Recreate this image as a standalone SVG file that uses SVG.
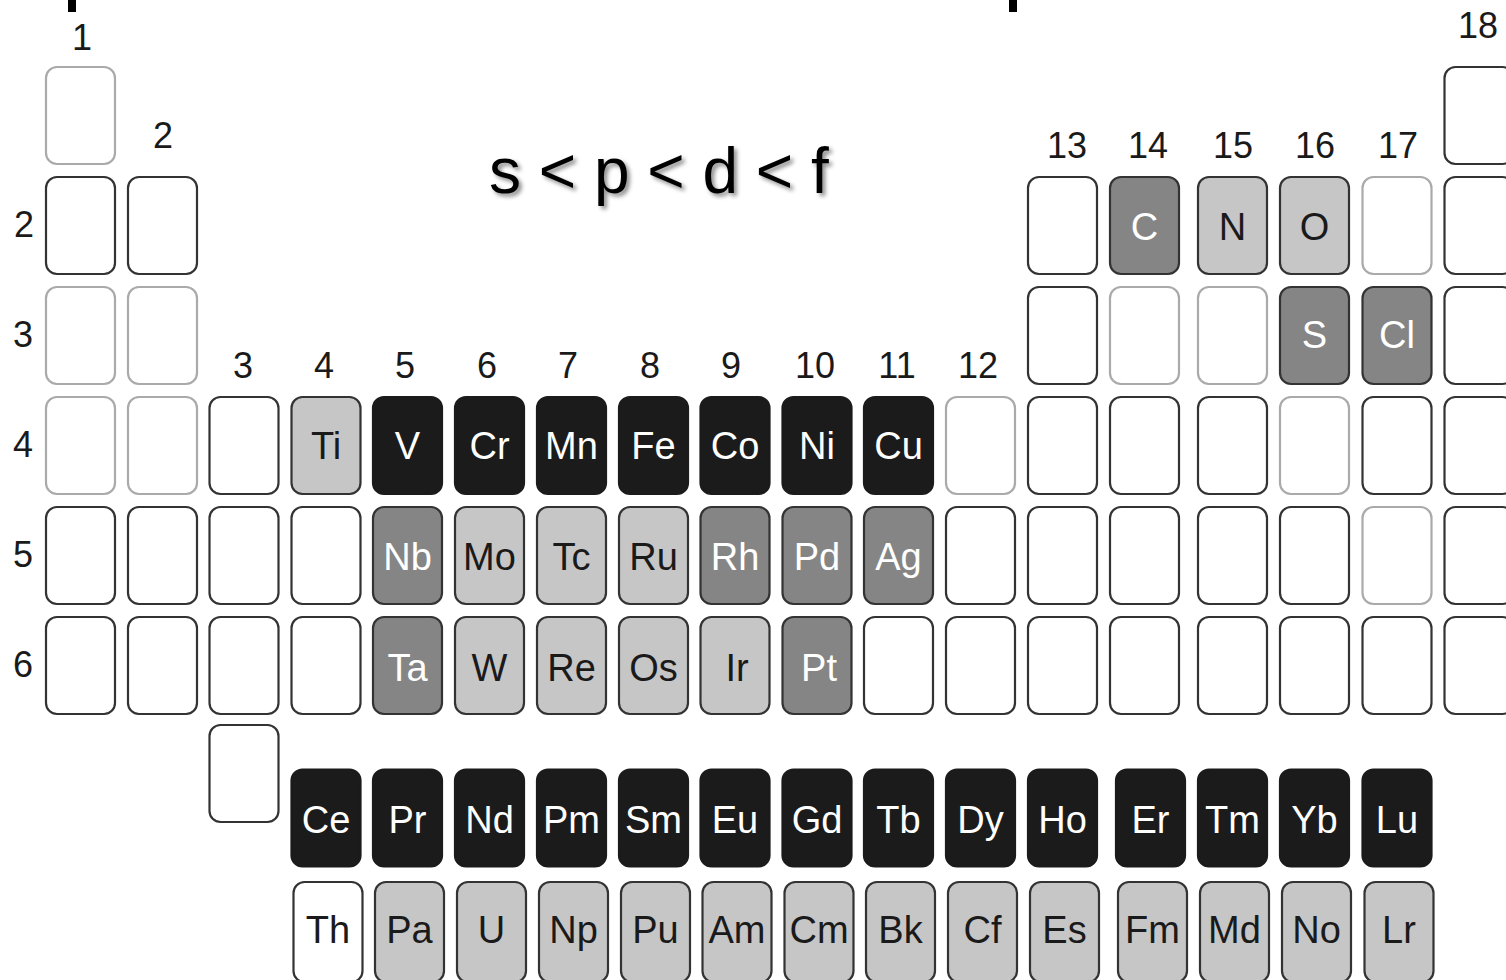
<svg xmlns="http://www.w3.org/2000/svg" width="1506" height="980" viewBox="0 0 1506 980">
<defs>
<style>
.c rect{fill:#fff;stroke:#333;stroke-width:2.2}
.f rect{stroke:#aaa}
.k rect{fill:#1b1b1b;stroke:#1b1b1b}
.d rect{fill:#858585}
.l rect{fill:#c6c6c6}
text{font-family:"Liberation Sans",Arial,sans-serif;text-anchor:middle}
.c text{font-size:38px;fill:#1a1a1a}
.k text,.d text{fill:#fff}
.lab{font-size:36px;fill:#1a1a1a}
.title{font-size:64px;fill:#000;text-anchor:start}
</style>
<filter id="sh" x="-10%" y="-30%" width="120%" height="160%">
<feDropShadow dx="3" dy="3" stdDeviation="2" flood-color="#000" flood-opacity="0.45"/>
</filter>
</defs>
<rect width="1506" height="980" fill="#fff"/>
<g id="marks">
<rect x="68" y="0" width="8" height="12" fill="#000"/>
<rect x="1009" y="0" width="8" height="12" fill="#000"/>
</g>
<g id="title"><text class="title" x="489" y="193" filter="url(#sh)">s &lt; p &lt; d &lt; f</text></g>
<g id="group-labels" class="lab">
<text class="lab" x="82" y="50">1</text>
<text class="lab" x="163" y="148">2</text>
<text class="lab" x="243" y="378">3</text>
<text class="lab" x="324" y="378">4</text>
<text class="lab" x="405" y="378">5</text>
<text class="lab" x="487" y="378">6</text>
<text class="lab" x="568" y="378">7</text>
<text class="lab" x="650" y="378">8</text>
<text class="lab" x="731" y="378">9</text>
<text class="lab" x="815" y="378">10</text>
<text class="lab" x="897" y="378">11</text>
<text class="lab" x="978" y="378">12</text>
<text class="lab" x="1067" y="158">13</text>
<text class="lab" x="1148" y="158">14</text>
<text class="lab" x="1233" y="158">15</text>
<text class="lab" x="1315" y="158">16</text>
<text class="lab" x="1398" y="158">17</text>
<text class="lab" x="1478" y="38">18</text>
</g>
<g id="period-labels">
<text class="lab" x="24" y="237">2</text>
<text class="lab" x="23" y="347">3</text>
<text class="lab" x="23" y="457">4</text>
<text class="lab" x="23" y="567">5</text>
<text class="lab" x="23" y="677">6</text>
</g>
<g id="connectors"/>
<!-- Period 1 -->
<g id="H" class="c f"><rect x="46" y="67" width="69" height="97" rx="11"/></g>
<g id="He" class="c"><rect x="1444.5" y="67" width="69" height="97" rx="11"/></g>
<!-- Period 2 -->
<g id="Li" class="c"><rect x="46" y="177" width="69" height="97" rx="11"/></g>
<g id="Be" class="c"><rect x="128" y="177" width="69" height="97" rx="11"/></g>
<g id="B" class="c"><rect x="1028" y="177" width="69" height="97" rx="11"/></g>
<g id="C" class="c d"><rect x="1110" y="177" width="69" height="97" rx="11"/><text x="1144.5" y="240">C</text></g>
<g id="N" class="c l"><rect x="1198" y="177" width="69" height="97" rx="11"/><text x="1232.5" y="240">N</text></g>
<g id="O" class="c l"><rect x="1280" y="177" width="69" height="97" rx="11"/><text x="1314.5" y="240">O</text></g>
<g id="F" class="c f"><rect x="1362.5" y="177" width="69" height="97" rx="11"/></g>
<g id="Ne" class="c"><rect x="1444.5" y="177" width="69" height="97" rx="11"/></g>
<!-- Period 3 -->
<g id="Na" class="c f"><rect x="46" y="287" width="69" height="97" rx="11"/></g>
<g id="Mg" class="c f"><rect x="128" y="287" width="69" height="97" rx="11"/></g>
<g id="Al" class="c"><rect x="1028" y="287" width="69" height="97" rx="11"/></g>
<g id="Si" class="c f"><rect x="1110" y="287" width="69" height="97" rx="11"/></g>
<g id="P" class="c f"><rect x="1198" y="287" width="69" height="97" rx="11"/></g>
<g id="S" class="c d"><rect x="1280" y="287" width="69" height="97" rx="11"/><text x="1314.5" y="348">S</text></g>
<g id="Cl" class="c d"><rect x="1362.5" y="287" width="69" height="97" rx="11"/><text x="1397" y="348">Cl</text></g>
<g id="Ar" class="c"><rect x="1444.5" y="287" width="69" height="97" rx="11"/></g>
<!-- Period 4 -->
<g id="K" class="c f"><rect x="46" y="397" width="69" height="97" rx="11"/></g>
<g id="Ca" class="c f"><rect x="128" y="397" width="69" height="97" rx="11"/></g>
<g id="Sc" class="c"><rect x="209.5" y="397" width="69" height="97" rx="11"/></g>
<g id="Ti" class="c l"><rect x="291.5" y="397" width="69" height="97" rx="11"/><text x="326" y="459">Ti</text></g>
<g id="V" class="c k"><rect x="373" y="397" width="69" height="97" rx="11"/><text x="407.5" y="459">V</text></g>
<g id="Cr" class="c k"><rect x="455" y="397" width="69" height="97" rx="11"/><text x="489.5" y="459">Cr</text></g>
<g id="Mn" class="c k"><rect x="537" y="397" width="69" height="97" rx="11"/><text x="571.5" y="459">Mn</text></g>
<g id="Fe" class="c k"><rect x="619" y="397" width="69" height="97" rx="11"/><text x="653.5" y="459">Fe</text></g>
<g id="Co" class="c k"><rect x="700.5" y="397" width="69" height="97" rx="11"/><text x="735" y="459">Co</text></g>
<g id="Ni" class="c k"><rect x="782.5" y="397" width="69" height="97" rx="11"/><text x="817" y="459">Ni</text></g>
<g id="Cu" class="c k"><rect x="864" y="397" width="69" height="97" rx="11"/><text x="898.5" y="459">Cu</text></g>
<g id="Zn" class="c f"><rect x="946" y="397" width="69" height="97" rx="11"/></g>
<g id="Ga" class="c"><rect x="1028" y="397" width="69" height="97" rx="11"/></g>
<g id="Ge" class="c"><rect x="1110" y="397" width="69" height="97" rx="11"/></g>
<g id="As" class="c"><rect x="1198" y="397" width="69" height="97" rx="11"/></g>
<g id="Se" class="c f"><rect x="1280" y="397" width="69" height="97" rx="11"/></g>
<g id="Br" class="c"><rect x="1362.5" y="397" width="69" height="97" rx="11"/></g>
<g id="Kr" class="c"><rect x="1444.5" y="397" width="69" height="97" rx="11"/></g>
<!-- Period 5 -->
<g id="Rb" class="c"><rect x="46" y="507" width="69" height="97" rx="11"/></g>
<g id="Sr" class="c"><rect x="128" y="507" width="69" height="97" rx="11"/></g>
<g id="Y" class="c"><rect x="209.5" y="507" width="69" height="97" rx="11"/></g>
<g id="Zr" class="c"><rect x="291.5" y="507" width="69" height="97" rx="11"/></g>
<g id="Nb" class="c d"><rect x="373" y="507" width="69" height="97" rx="11"/><text x="407.5" y="570">Nb</text></g>
<g id="Mo" class="c l"><rect x="455" y="507" width="69" height="97" rx="11"/><text x="489.5" y="570">Mo</text></g>
<g id="Tc" class="c l"><rect x="537" y="507" width="69" height="97" rx="11"/><text x="571.5" y="570">Tc</text></g>
<g id="Ru" class="c l"><rect x="619" y="507" width="69" height="97" rx="11"/><text x="653.5" y="570">Ru</text></g>
<g id="Rh" class="c d"><rect x="700.5" y="507" width="69" height="97" rx="11"/><text x="735" y="570">Rh</text></g>
<g id="Pd" class="c d"><rect x="782.5" y="507" width="69" height="97" rx="11"/><text x="817" y="570">Pd</text></g>
<g id="Ag" class="c d"><rect x="864" y="507" width="69" height="97" rx="11"/><text x="898.5" y="570">Ag</text></g>
<g id="Cd" class="c"><rect x="946" y="507" width="69" height="97" rx="11"/></g>
<g id="In" class="c"><rect x="1028" y="507" width="69" height="97" rx="11"/></g>
<g id="Sn" class="c"><rect x="1110" y="507" width="69" height="97" rx="11"/></g>
<g id="Sb" class="c"><rect x="1198" y="507" width="69" height="97" rx="11"/></g>
<g id="Te" class="c"><rect x="1280" y="507" width="69" height="97" rx="11"/></g>
<g id="I" class="c f"><rect x="1362.5" y="507" width="69" height="97" rx="11"/></g>
<g id="Xe" class="c"><rect x="1444.5" y="507" width="69" height="97" rx="11"/></g>
<!-- Period 6 -->
<g id="Cs" class="c"><rect x="46" y="617" width="69" height="97" rx="11"/></g>
<g id="Ba" class="c"><rect x="128" y="617" width="69" height="97" rx="11"/></g>
<g id="La" class="c"><rect x="209.5" y="617" width="69" height="97" rx="11"/></g>
<g id="Hf" class="c"><rect x="291.5" y="617" width="69" height="97" rx="11"/></g>
<g id="Ta" class="c d"><rect x="373" y="617" width="69" height="97" rx="11"/><text x="407.5" y="681">Ta</text></g>
<g id="W" class="c l"><rect x="455" y="617" width="69" height="97" rx="11"/><text x="489.5" y="681">W</text></g>
<g id="Re" class="c l"><rect x="537" y="617" width="69" height="97" rx="11"/><text x="571.5" y="681">Re</text></g>
<g id="Os" class="c l"><rect x="619" y="617" width="69" height="97" rx="11"/><text x="653.5" y="681">Os</text></g>
<g id="Ir" class="c l"><rect x="700.5" y="617" width="69" height="97" rx="11"/><text x="737" y="681">Ir</text></g>
<g id="Pt" class="c d"><rect x="782.5" y="617" width="69" height="97" rx="11"/><text x="819" y="681">Pt</text></g>
<g id="Au" class="c"><rect x="864" y="617" width="69" height="97" rx="11"/></g>
<g id="Hg" class="c"><rect x="946" y="617" width="69" height="97" rx="11"/></g>
<g id="Tl" class="c"><rect x="1028" y="617" width="69" height="97" rx="11"/></g>
<g id="Pb" class="c"><rect x="1110" y="617" width="69" height="97" rx="11"/></g>
<g id="Bi" class="c"><rect x="1198" y="617" width="69" height="97" rx="11"/></g>
<g id="Po" class="c"><rect x="1280" y="617" width="69" height="97" rx="11"/></g>
<g id="At" class="c"><rect x="1362.5" y="617" width="69" height="97" rx="11"/></g>
<g id="Rn" class="c"><rect x="1444.5" y="617" width="69" height="97" rx="11"/></g>
<!-- Period 7 group 3 -->
<g id="Ac" class="c"><rect x="209.5" y="725" width="69" height="97" rx="11"/></g>
<!-- Lanthanides -->
<g id="Ce" class="c k"><rect x="291.5" y="769.5" width="69" height="97" rx="11"/><text x="326" y="833">Ce</text></g>
<g id="Pr" class="c k"><rect x="373" y="769.5" width="69" height="97" rx="11"/><text x="407.5" y="833">Pr</text></g>
<g id="Nd" class="c k"><rect x="455" y="769.5" width="69" height="97" rx="11"/><text x="489.5" y="833">Nd</text></g>
<g id="Pm" class="c k"><rect x="537" y="769.5" width="69" height="97" rx="11"/><text x="571.5" y="833">Pm</text></g>
<g id="Sm" class="c k"><rect x="619" y="769.5" width="69" height="97" rx="11"/><text x="653.5" y="833">Sm</text></g>
<g id="Eu" class="c k"><rect x="700.5" y="769.5" width="69" height="97" rx="11"/><text x="735" y="833">Eu</text></g>
<g id="Gd" class="c k"><rect x="782.5" y="769.5" width="69" height="97" rx="11"/><text x="817" y="833">Gd</text></g>
<g id="Tb" class="c k"><rect x="864" y="769.5" width="69" height="97" rx="11"/><text x="898.5" y="833">Tb</text></g>
<g id="Dy" class="c k"><rect x="946" y="769.5" width="69" height="97" rx="11"/><text x="980.5" y="833">Dy</text></g>
<g id="Ho" class="c k"><rect x="1028" y="769.5" width="69" height="97" rx="11"/><text x="1062.5" y="833">Ho</text></g>
<g id="Er" class="c k"><rect x="1116" y="769.5" width="69" height="97" rx="11"/><text x="1150.5" y="833">Er</text></g>
<g id="Tm" class="c k"><rect x="1198" y="769.5" width="69" height="97" rx="11"/><text x="1232.5" y="833">Tm</text></g>
<g id="Yb" class="c k"><rect x="1280" y="769.5" width="69" height="97" rx="11"/><text x="1314.5" y="833">Yb</text></g>
<g id="Lu" class="c k"><rect x="1362.5" y="769.5" width="69" height="97" rx="11"/><text x="1397" y="833">Lu</text></g>
<!-- Actinides -->
<g id="Th" class="c"><rect x="293.5" y="882" width="69" height="100" rx="11"/><text x="328" y="943">Th</text></g>
<g id="Pa" class="c l"><rect x="375" y="882" width="69" height="100" rx="11"/><text x="409.5" y="943">Pa</text></g>
<g id="U" class="c l"><rect x="457" y="882" width="69" height="100" rx="11"/><text x="491.5" y="943">U</text></g>
<g id="Np" class="c l"><rect x="539" y="882" width="69" height="100" rx="11"/><text x="573.5" y="943">Np</text></g>
<g id="Pu" class="c l"><rect x="621" y="882" width="69" height="100" rx="11"/><text x="655.5" y="943">Pu</text></g>
<g id="Am" class="c l"><rect x="702.5" y="882" width="69" height="100" rx="11"/><text x="737" y="943">Am</text></g>
<g id="Cm" class="c l"><rect x="784.5" y="882" width="69" height="100" rx="11"/><text x="819" y="943">Cm</text></g>
<g id="Bk" class="c l"><rect x="866" y="882" width="69" height="100" rx="11"/><text x="900.5" y="943">Bk</text></g>
<g id="Cf" class="c l"><rect x="948" y="882" width="69" height="100" rx="11"/><text x="982.5" y="943">Cf</text></g>
<g id="Es" class="c l"><rect x="1030" y="882" width="69" height="100" rx="11"/><text x="1064.5" y="943">Es</text></g>
<g id="Fm" class="c l"><rect x="1118" y="882" width="69" height="100" rx="11"/><text x="1152.5" y="943">Fm</text></g>
<g id="Md" class="c l"><rect x="1200" y="882" width="69" height="100" rx="11"/><text x="1234.5" y="943">Md</text></g>
<g id="No" class="c l"><rect x="1282" y="882" width="69" height="100" rx="11"/><text x="1316.5" y="943">No</text></g>
<g id="Lr" class="c l"><rect x="1364.5" y="882" width="69" height="100" rx="11"/><text x="1399" y="943">Lr</text></g>
</svg>
